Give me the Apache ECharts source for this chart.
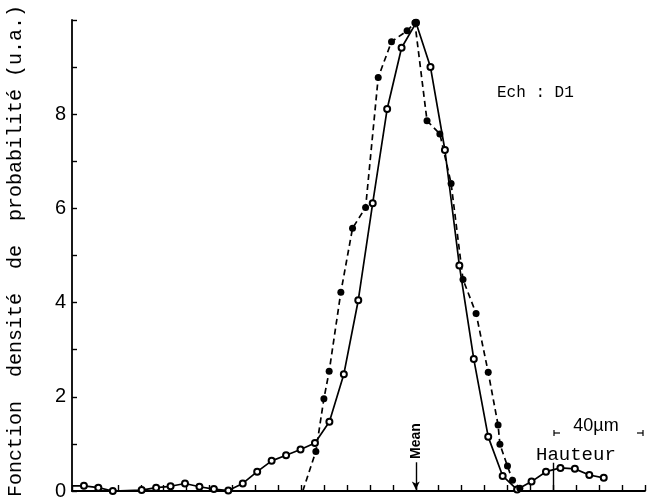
<!DOCTYPE html>
<html>
<head>
<meta charset="utf-8">
<script src="https://cdn.jsdelivr.net/npm/echarts@6/dist/echarts.min.js"></script>
<style>html,body{margin:0;padding:0;background:#fff}#c{width:653px;height:502px}</style>
</head>
<body>
<div id="c"></div>
<script>
// Solid curve (open circles)
var solidX = [0, 0.52, 1.15, 1.78, 3.04, 3.67, 4.30, 4.93, 5.56, 6.19, 6.82, 7.45, 8.08, 8.71, 9.34, 9.97, 10.60, 11.23, 11.86, 12.49, 13.12, 13.75, 14.38, 15.01, 15.64, 16.27, 16.90, 17.53, 18.16, 18.79, 19.42, 20.05, 20.68, 21.31, 21.94, 22.57, 23.20];
var solidY = [0.11, 0.11, 0.07, 0.0, 0.02, 0.07, 0.10, 0.16, 0.09, 0.04, 0.01, 0.16, 0.41, 0.64, 0.76, 0.88, 1.02, 1.47, 2.48, 4.05, 6.11, 8.11, 9.41, 9.94, 9.00, 7.24, 4.79, 2.80, 1.15, 0.32, 0.03, 0.20, 0.41, 0.49, 0.47, 0.34, 0.28];
// Dashed curve (filled markers)
var dashX = [10.07, 10.64, 10.99, 11.22, 11.73, 12.24, 12.81, 13.36, 13.94, 14.62, 14.96, 15.49, 16.05, 16.54, 17.06, 17.63, 18.16, 18.59, 18.67, 19.00, 19.22, 19.54];
var dashY = [0, 0.84, 1.96, 2.54, 4.22, 5.58, 6.02, 8.78, 9.54, 9.77, 9.94, 7.86, 7.58, 6.53, 4.49, 3.77, 2.52, 1.40, 0.99, 0.53, 0.23, 0.06];
var yTickLabels = ['0', '2', '4', '6', '8'];
var meanX = 15;
var hauteurX = 21;
var yTitle = 'Fonction  densité  de  probabilité (u.a.)';

var chart = echarts.init(document.getElementById('c'));
var solidData = solidX.map(function (x, i) {
  var d = {value: [x, solidY[i]]};
  if (i === 0) d.symbol = 'none';
  return d;
});
var dashData = dashX.map(function (x, i) {
  var d = {value: [x, dashY[i]]};
  if (i === 0) d.symbol = 'none';
  return d;
});
var mono = '"Liberation Mono", monospace';
chart.setOption({
  animation: false,
  backgroundColor: '#fff',
  grid: {left: 72, right: 8, top: 20, bottom: 11, containLabel: false},
  xAxis: {
    type: 'value', min: 0, max: 25, interval: 1,
    axisLine: {show: true, lineStyle: {color: '#000', width: 1.8}},
    axisTick: {show: true, inside: true, length: 6, lineStyle: {color: '#000', width: 1.4}},
    axisLabel: {show: false},
    splitLine: {show: false}
  },
  yAxis: {
    type: 'value', min: 0, max: 10, interval: 1,
    axisLine: {show: true, lineStyle: {color: '#000', width: 1.8}},
    axisTick: {show: true, inside: true, length: 5, lineStyle: {color: '#000', width: 1.4}},
    axisLabel: {
      color: '#000', fontSize: 20, fontFamily: '"Liberation Sans", sans-serif', margin: 6,
      formatter: function (v) { return yTickLabels.indexOf(String(v)) >= 0 ? String(v) : ''; }
    },
    splitLine: {show: false}
  },
  series: [
    {
      type: 'line', data: solidData, symbol: 'emptyCircle', symbolSize: 6,
      lineStyle: {color: '#000', width: 1.7},
      itemStyle: {color: '#000', borderColor: '#000', borderWidth: 1.5},
      markLine: {
        silent: true, animation: false,
        label: {show: false},
        lineStyle: {color: '#000', width: 1.4, type: 'solid'},
        data: [
          [{coord: [meanX, 0.61], symbol: 'none'}, {coord: [meanX, 0.03], symbol: 'arrow', symbolSize: [6, 8]}],
          [{coord: [hauteurX, 0], symbol: 'none'}, {coord: [hauteurX, 0.6], symbol: 'none'}]
        ]
      }
    },
    {
      type: 'line', data: dashData, symbol: 'circle', symbolSize: 7,
      lineStyle: {color: '#000', width: 1.7, type: [6, 4]},
      itemStyle: {color: '#000'}
    }
  ],
  graphic: [
    {type: 'text', x: 16, y: 251, rotation: Math.PI / 2,
     style: {text: yTitle, font: '20px ' + mono, fill: '#000', align: 'center', verticalAlign: 'middle'}},
    {type: 'text', x: 497, y: 93,
     style: {text: 'Ech : D1', font: '16px ' + mono, fill: '#000', align: 'left', verticalAlign: 'middle'}},
    {type: 'text', x: 416, y: 441, rotation: Math.PI / 2,
     style: {text: 'Mean', font: 'bold 14px "Liberation Sans", sans-serif', fill: '#000', align: 'center', verticalAlign: 'middle'}},
    {type: 'text', x: 596, y: 426,
     style: {text: '40µm', font: '18px "Liberation Sans", sans-serif', fill: '#000', align: 'center', verticalAlign: 'middle'}},
    {type: 'text', x: 536, y: 455,
     style: {text: 'Hauteur', font: '19px ' + mono, fill: '#000', align: 'left', verticalAlign: 'middle'}},
    {type: 'line', shape: {x1: 554, y1: 430, x2: 554, y2: 436}, style: {stroke: '#000', lineWidth: 1.2}},
    {type: 'line', shape: {x1: 554, y1: 433, x2: 560, y2: 433}, style: {stroke: '#000', lineWidth: 1.2}},
    {type: 'line', shape: {x1: 643, y1: 430, x2: 643, y2: 436}, style: {stroke: '#000', lineWidth: 1.2}},
    {type: 'line', shape: {x1: 637, y1: 433, x2: 643, y2: 433}, style: {stroke: '#000', lineWidth: 1.2}}
  ]
});
</script>
</body>
</html>
